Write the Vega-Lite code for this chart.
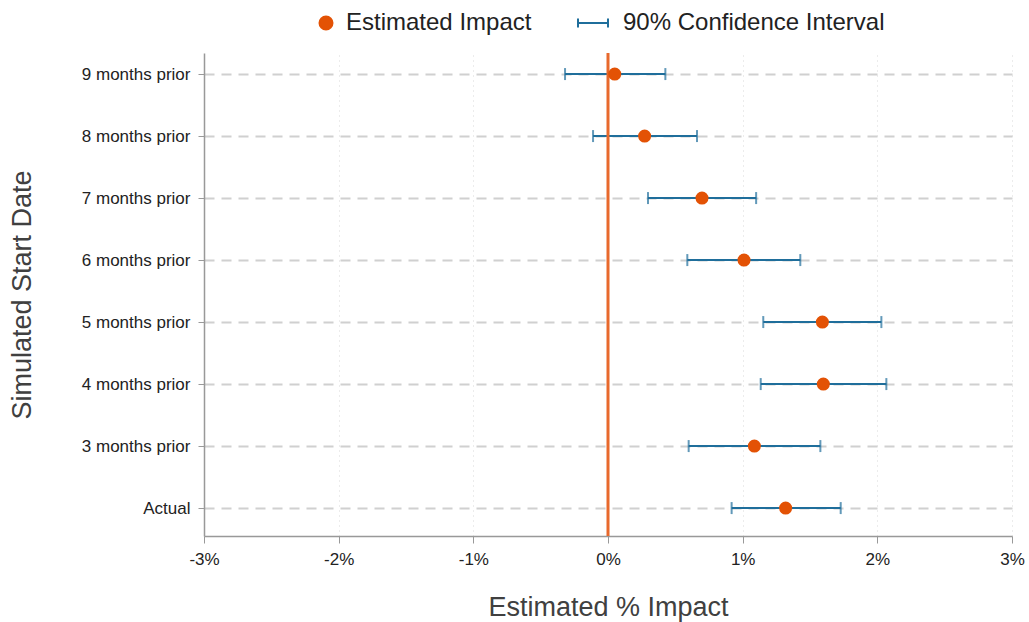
{
  "$schema": "https://vega.github.io/schema/vega-lite/v6.json",
  "width": 808,
  "height": 483,
  "autosize": {"type": "none"},
  "padding": {"left": 204, "top": 53, "right": 17, "bottom": 86},
  "background": "white",
  "config": {
    "font": "Liberation Sans",
    "view": {"stroke": null},
    "axis": {"labelFont": "Liberation Sans", "titleFont": "Liberation Sans"}
  },
  "data": {
    "values": [
      {"label": "9 months prior", "est": 0.05, "lo": -0.319, "hi": 0.426},
      {"label": "8 months prior", "est": 0.272, "lo": -0.111, "hi": 0.661},
      {"label": "7 months prior", "est": 0.698, "lo": 0.297, "hi": 1.10},
      {"label": "6 months prior", "est": 1.01, "lo": 0.589, "hi": 1.428},
      {"label": "5 months prior", "est": 1.592, "lo": 1.153, "hi": 2.03},
      {"label": "4 months prior", "est": 1.599, "lo": 1.134, "hi": 2.067},
      {"label": "3 months prior", "est": 1.087, "lo": 0.599, "hi": 1.577},
      {"label": "Actual", "est": 1.319, "lo": 0.918, "hi": 1.728}
    ]
  },
  "encoding": {
    "y": {
      "field": "label",
      "type": "nominal",
      "sort": null,
      "scale": {"type": "point", "padding": 0.395, "align": 0.43},
      "axis": {
        "title": "Simulated Start Date",
        "titleFontSize": 27,
        "titleFontWeight": "normal",
        "titleColor": "#404040",
        "titlePadding": 45,
        "labelFontSize": 17,
        "labelColor": "#222222",
        "labelPadding": 8,
        "labelLimit": 0,
        "tickSize": 6,
        "tickColor": "#999999",
        "domainColor": "#999999",
        "domainWidth": 1.5,
        "grid": true,
        "gridColor": "#d0d0d0",
        "gridWidth": 2,
        "gridDash": [10, 7]
      }
    }
  },
  "layer": [
    {
      "mark": {"type": "rule", "strokeWidth": 2},
      "encoding": {
        "x": {
          "field": "lo",
          "type": "quantitative",
          "scale": {"domain": [-3, 3], "nice": false},
          "axis": {
            "title": "Estimated % Impact",
            "titleFontSize": 27,
            "titleFontWeight": "normal",
            "titleColor": "#404040",
            "titlePadding": 27,
            "values": [-3, -2, -1, 0, 1, 2, 3],
            "labelExpr": "datum.value + '%'",
            "labelFontSize": 17,
            "labelColor": "#222222",
            "labelPadding": 8,
            "labelFlush": false,
            "labelOverlap": false,
            "tickSize": 7,
            "tickColor": "#999999",
            "domainColor": "#999999",
            "domainWidth": 1.5,
            "grid": true,
            "gridColor": "#d8d8d8",
            "gridWidth": 1,
            "gridDash": [1, 4]
          }
        },
        "x2": {"field": "hi"},
        "color": {
          "datum": "90% Confidence Interval",
          "type": "nominal",
          "scale": {
            "domain": ["Estimated Impact", "90% Confidence Interval"],
            "range": ["#E35205", "#1f6e9b"]
          },
          "legend": {
            "title": null,
            "orient": "none",
            "direction": "horizontal",
            "legendX": 97,
            "legendY": -46,
            "labelFontSize": 24,
            "labelLimit": 0,
            "labelColor": "#222222",
            "labelOffset": 13,
            "columnPadding": 42,
            "symbolSize": 900,
            "encode": {
              "symbols": {
                "update": {
                  "shape": {"signal": "datum.value === 'Estimated Impact' ? 'circle' : 'M-1,-0.3L-1,0.3M-1,0L1,0M1,-0.3L1,0.3'"},
                  "size": {"signal": "datum.value === 'Estimated Impact' ? 169 : 900"},
                  "x": {"signal": "datum.value === 'Estimated Impact' ? 25 : 15"},
                  "fill": {"signal": "datum.value === 'Estimated Impact' ? '#E35205' : 'transparent'"},
                  "stroke": {"signal": "datum.value === 'Estimated Impact' ? '#E35205' : '#1f6e9b'"},
                  "strokeWidth": {"value": 2},
                  "opacity": {"value": 1}
                }
              }
            }
          }
        }
      }
    },
    {
      "mark": {"type": "tick", "orient": "vertical", "size": 12, "thickness": 2, "color": "#1f6e9b"},
      "encoding": {"x": {"field": "lo", "type": "quantitative"}}
    },
    {
      "mark": {"type": "tick", "orient": "vertical", "size": 12, "thickness": 2, "color": "#1f6e9b"},
      "encoding": {"x": {"field": "hi", "type": "quantitative"}}
    },
    {
      "data": {"values": [{"zero": 0}]},
      "mark": {"type": "rule", "color": "#E8692C", "strokeWidth": 3},
      "encoding": {"x": {"field": "zero", "type": "quantitative"}, "y": null}
    },
    {
      "mark": {"type": "point", "filled": true, "size": 170, "opacity": 1},
      "encoding": {
        "x": {"field": "est", "type": "quantitative"},
        "color": {"datum": "Estimated Impact", "type": "nominal"}
      }
    }
  ]
}
